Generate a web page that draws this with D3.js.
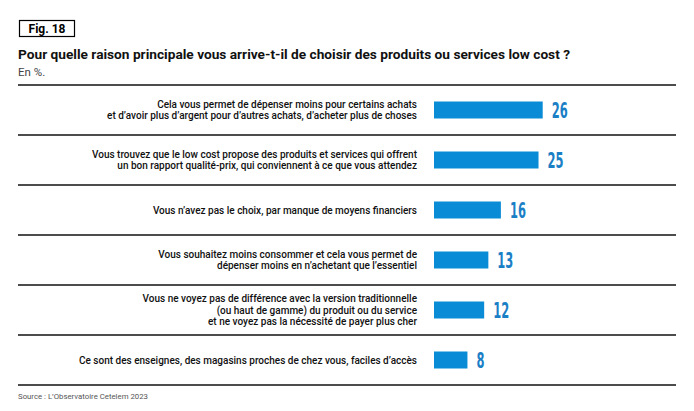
<!DOCTYPE html>
<html><head><meta charset="utf-8">
<script src="https://cdn.jsdelivr.net/npm/d3@7/dist/d3.min.js"></script>
<style>body{margin:0;background:#fff;}</style>
</head><body>
<script>
const categories = [
  ["Cela vous permet de dépenser moins pour certains achats", "et d’avoir plus d’argent pour d’autres achats, d’acheter plus de choses"],
  ["Vous trouvez que le low cost propose des produits et services qui offrent", "un bon rapport qualité-prix, qui conviennent à ce que vous attendez"],
  ["Vous n’avez pas le choix, par manque de moyens financiers"],
  ["Vous souhaitez moins consommer et cela vous permet de", "dépenser moins en n’achetant que l’essentiel"],
  ["Vous ne voyez pas de différence avec la version traditionnelle", "(ou haut de gamme) du produit ou du service", "et ne voyez pas la nécessité de payer plus cher"],
  ["Ce sont des enseignes, des magasins proches de chez vous, faciles d’accès"]
];
const values = [26, 25, 16, 13, 12, 8];

const W = 694, H = 411;
const svg = d3.select("body").append("svg").attr("width", W).attr("height", H);

// header
svg.append("rect").attr("x", 19.5).attr("y", 20.5).attr("width", 55).attr("height", 16)
  .attr("fill", "none").attr("stroke", "#000").attr("stroke-width", 1.2);
svg.append("text").attr("x", 47).attr("y", 33).text("Fig. 18").attr("text-anchor", "middle")
  .attr("font-family", "Roboto, sans-serif").attr("font-weight", "bold").attr("font-size", 12).attr("fill", "#000");
svg.append("text").attr("x", 18).attr("y", 58.5).text("Pour quelle raison principale vous arrive-t-il de choisir des produits ou services low cost ?")
  .attr("font-family", "Roboto, sans-serif").attr("font-weight", "bold").attr("font-size", 13.7).attr("fill", "#111");
svg.append("text").attr("x", 18).attr("y", 76).text("En %.")
  .attr("font-family", "Roboto, sans-serif").attr("font-size", 11.5).attr("fill", "#444");

const x = d3.scaleLinear().domain([0, 26]).range([434, 542.7]);
const y = d3.scaleBand().domain(d3.range(values.length)).range([85, 385]).paddingInner(0).paddingOuter(0);

// separators
const seps = d3.range(values.length + 1).map(i => 85 + i * y.step());
svg.selectAll("line.sep").data(seps).enter().append("line")
  .attr("x1", 18).attr("x2", 676).attr("y1", d => d).attr("y2", d => d)
  .attr("stroke", "#111").attr("stroke-width", 1.3);

const bh = 17;
svg.selectAll("rect.bar").data(values).enter().append("rect")
  .attr("x", x(0)).attr("y", (d, i) => y(i) + y.bandwidth() / 2 - bh / 2)
  .attr("width", d => x(d) - x(0)).attr("height", bh).attr("fill", "#0a8bd6");

svg.selectAll("text.val").data(values).enter().append("text")
  .attr("x", d => x(d) + 9).attr("y", (d, i) => y(i) + y.bandwidth() / 2 + 7.5)
  .text(d => d)
  .attr("font-family", "'Liberation Sans Narrow', 'DejaVu Sans Condensed', sans-serif")
  .attr("font-weight", "bold")
  .attr("font-size", 21).attr("fill", "#1b7fc6")
  .attr("textLength", d => String(d).length === 1 ? 8 : 16).attr("lengthAdjust", "spacingAndGlyphs");

// labels
categories.forEach((lines, i) => {
  const cy = y(i) + y.bandwidth() / 2;
  const lh = 11.5;
  const t = svg.append("text").attr("text-anchor", "end")
    .attr("font-family", "Roboto, sans-serif").attr("font-weight", 500).attr("font-size", 10).attr("fill", "#111");
  lines.forEach((l, j) => {
    t.append("tspan").attr("x", 417).attr("y", cy + (j - (lines.length - 1) / 2) * lh + 3.5).text(l);
  });
});

svg.append("text").attr("x", 18).attr("y", 399).text("Source : L’Observatoire Cetelem 2023")
  .attr("font-family", "Roboto, sans-serif").attr("font-size", 7.8).attr("fill", "#555");
</script>
</body></html>
